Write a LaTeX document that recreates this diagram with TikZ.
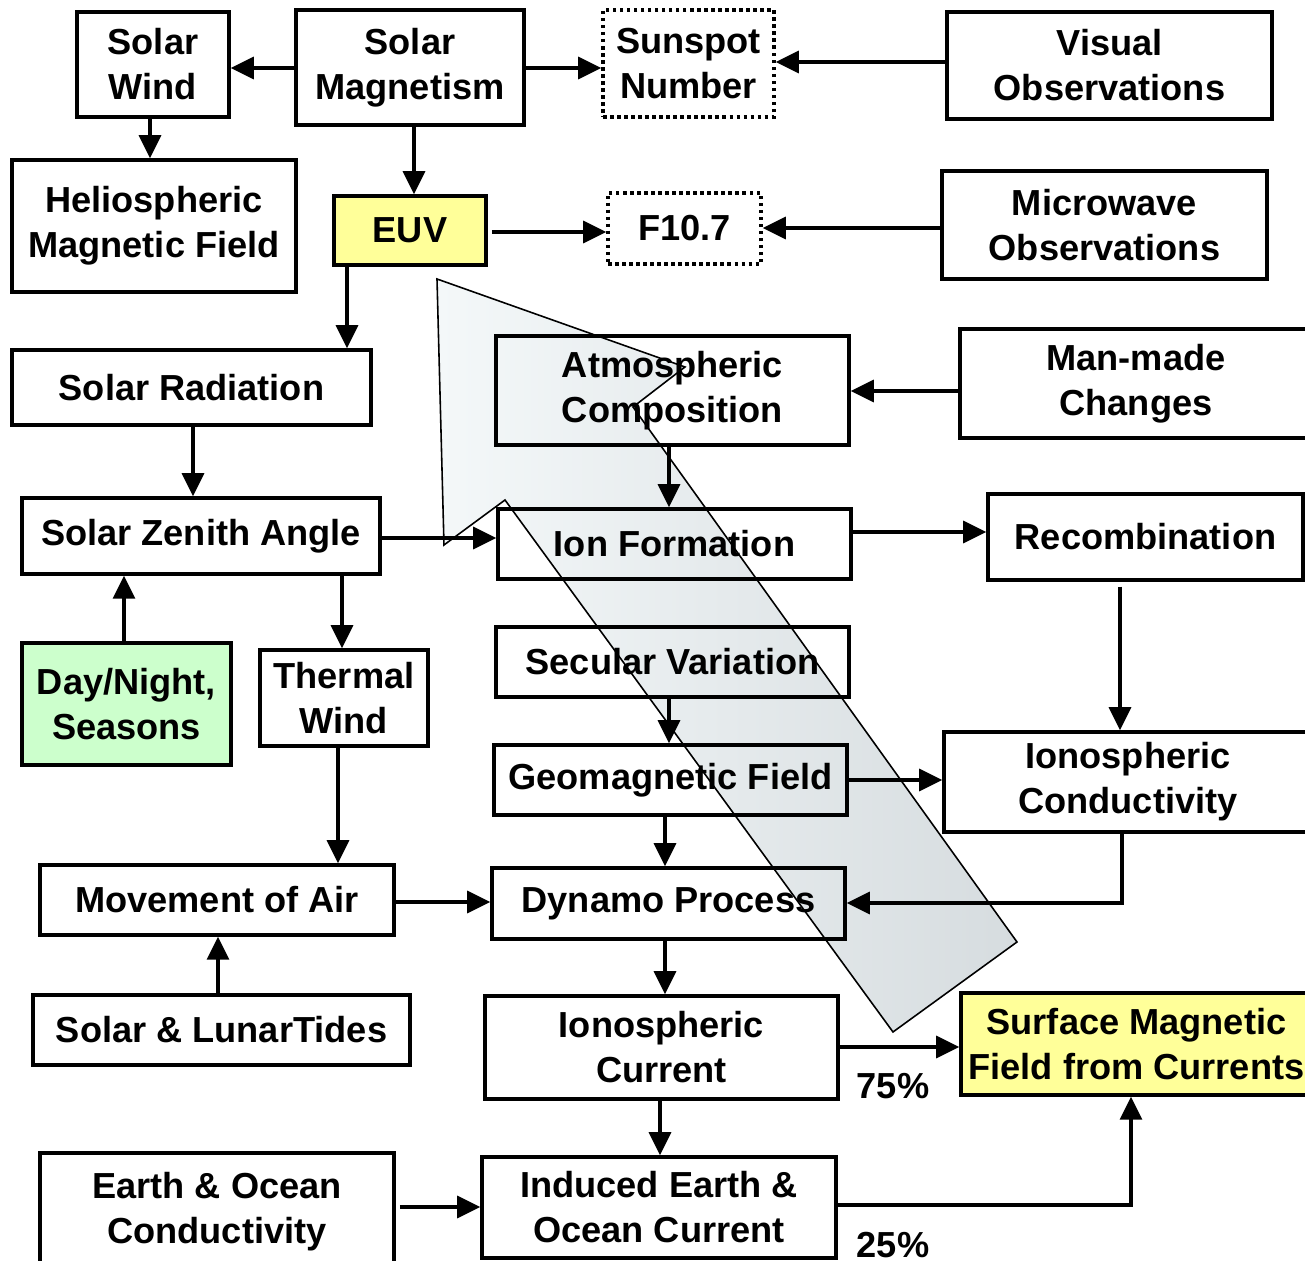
\documentclass[tikz,border=0pt]{standalone}
\usepackage{fontspec}
\setmainfont{Liberation Sans}
\usepackage{xcolor}
\usepackage{tikz}
\usetikzlibrary{arrows.meta}
\definecolor{boxyellow}{HTML}{FFFF99}
\definecolor{boxgreen}{HTML}{CCFFCC}
\definecolor{arrowlight}{HTML}{F4F8F9}
\definecolor{arrowdark}{HTML}{D6DCDF}
\newcommand{\boxfont}{\bfseries\fontsize{10.3}{12.8}\selectfont}

\begin{document}
\begin{tikzpicture}[x=0.1mm,y=-0.1mm,
  box/.style={draw,line width=1pt,inner sep=0pt,align=center,font=\boxfont},
  dotbox/.style={box,densely dotted},
  arr/.style={-{Triangle[length=2.3mm,width=2.2mm]},line width=0.9pt},
  bigarrow/.style={left color=arrowlight,right color=arrowdark}]
  \useasboundingbox (0,0) rectangle (1305,1261);
  % big arrow, fill first
  \shade[bigarrow] (437,279) -- (685,367) -- (633,407) -- (1017,942) -- (893,1032) -- (505,500) -- (444,545) -- cycle;
  % top rows
  \node[box,minimum width=15.2mm,minimum height=10.5mm] (swind) at (153,64.5) {Solar\\Wind};
  \node[box,minimum width=22.8mm,minimum height=11.5mm] (smag) at (410,67.5) {Solar\\Magnetism};
  \node[dotbox,minimum width=17.1mm,minimum height=10.7mm] (sunspot) at (688.5,63.5) {Sunspot\\Number};
  \node[box,minimum width=32.5mm,minimum height=10.7mm] (visual) at (1109.5,65.5) {Visual\\Observations};
  \node[box,minimum width=28.4mm,minimum height=13.2mm] (helio) at (154,226) {Heliospheric\\Magnetic Field};
  \node[box,fill=boxyellow,minimum width=15.2mm,minimum height=6.9mm] (euv) at (410,230.5) {EUV};
  \node[dotbox,minimum width=15.3mm,minimum height=7.1mm] (f107) at (684.5,228.5) {F10.7};
  \node[box,minimum width=32.5mm,minimum height=10.8mm] (micro) at (1104.5,225) {Microwave\\Observations};
  % middle
  \node[box,minimum width=35.9mm,minimum height=7.5mm] (srad) at (191.5,387.5) {Solar Radiation};
  \node[box,minimum width=35.3mm,minimum height=10.9mm] (atmos) at (672.5,390.5) {Atmospheric\\Composition};
  \node[box,minimum width=35.2mm,minimum height=10.9mm] (manmade) at (1136,383.5) {Man-made\\Changes};
  \node[box,minimum width=35.8mm,minimum height=7.6mm] (sza) at (201,536) {Solar Zenith Angle};
  \node[box,minimum width=35.3mm,minimum height=7mm] (ionf) at (674.5,544) {Ion Formation};
  \node[box,minimum width=31.5mm,minimum height=8.6mm] (recomb) at (1145.5,537) {Recombination};
  \node[box,fill=boxgreen,minimum width=20.9mm,minimum height=12.2mm] (daynight) at (126.5,704) {Day/Night,\\Seasons};
  \node[box,minimum width=16.8mm,minimum height=9.6mm] (thermal) at (344,698) {Thermal\\Wind};
  \node[box,minimum width=35.3mm,minimum height=7mm] (secular) at (672.5,662) {Secular Variation};
  \node[box,minimum width=35.3mm,minimum height=7mm] (geomag) at (670.5,780) {Geomagnetic Field};
  \node[box,minimum width=36.8mm,minimum height=10mm] (ioncond) at (1128,782) {Ionospheric\\Conductivity};
  % bottom
  \node[box,minimum width=35.4mm,minimum height=7mm] (air) at (217,900) {Movement of Air};
  \node[box,minimum width=35.3mm,minimum height=7.1mm] (dynamo) at (668.5,903.5) {Dynamo Process};
  \node[box,minimum width=37.7mm,minimum height=7mm] (tides) at (221.5,1030) {Solar \& LunarTides};
  \node[box,minimum width=35.3mm,minimum height=10.3mm] (ioncur) at (661.5,1047.5) {Ionospheric\\Current};
  \node[box,fill=boxyellow,minimum width=35.1mm,minimum height=10.2mm] (surface) at (1136.5,1044) {Surface Magnetic\\Field from Currents};
  \node[box,minimum width=35.4mm,minimum height=11.7mm] (earth) at (217,1211.5) {Earth \& Ocean\\Conductivity};
  \node[box,minimum width=35.4mm,minimum height=10.1mm] (induced) at (659,1207.5) {Induced Earth \&\\Ocean Current};
  \node[font=\boxfont] (p75) at (893,1086) {75\%};
  \node[font=\boxfont] (p25) at (893,1245) {25\%};
  % connectors
  \draw[arr] (smag.west |- 0,68) -- (swind.east |- 0,68);
  \draw[arr] (smag.east |- 0,68) -- (sunspot.west |- 0,68);
  \draw[arr] (visual.west |- 0,62) -- (sunspot.east |- 0,62);
  \draw[arr] (swind.south -| 150,0) -- (helio.north -| 150,0);
  \draw[arr] (smag.south -| 414,0) -- (euv.north -| 414,0);
  \draw[arr] (euv.east |- 0,232) ++(4,0) -- (f107.west |- 0,232);
  \draw[arr] (micro.west |- 0,228) -- (f107.east |- 0,228);
  \draw[arr] (euv.south -| 347,0) -- (srad.north -| 347,0);
  \draw[arr] (srad.south -| 193,0) -- (sza.north -| 193,0);
  \draw[arr] (sza.east |- 0,538) -- (ionf.west |- 0,538);
  \draw[arr] (manmade.west |- 0,391) -- (atmos.east |- 0,391);
  \draw[arr] (atmos.south -| 669,0) -- (ionf.north -| 669,0);
  \draw[arr] (ionf.east |- 0,532) -- (recomb.west |- 0,532);
  \draw[arr] (recomb.south -| 1120,0) ++(0,5) -- (ioncond.north -| 1120,0);
  \draw[arr] (sza.south -| 342,0) -- (thermal.north -| 342,0);
  \draw[arr] (daynight.north -| 124,0) -- (sza.south -| 124,0);
  \draw[arr] (thermal.south -| 338,0) -- (air.north -| 338,0);
  \draw[arr] (secular.south -| 669,0) -- (geomag.north -| 669,0);
  \draw[arr] (geomag.east |- 0,780) -- (ioncond.west |- 0,780);
  \draw[arr] (geomag.south -| 665,0) -- (dynamo.north -| 665,0);
  \draw[arr] (ioncond.south -| 1122,0) |- (dynamo.east |- 0,903);
  \draw[arr] (air.east |- 0,902) -- (dynamo.west |- 0,902);
  \draw[arr] (tides.north -| 218,0) -- (air.south -| 218,0);
  \draw[arr] (dynamo.south -| 665,0) -- (ioncur.north -| 665,0);
  \draw[arr] (ioncur.east |- 0,1047) -- (surface.west |- 0,1047);
  \draw[arr] (ioncur.south -| 660,0) -- (induced.north -| 660,0);
  \draw[arr] (earth.east |- 0,1207) ++(4,0) -- (induced.west |- 0,1207);
  \draw[arr] (induced.east |- 0,1205) -| (surface.south -| 1131,0);
  % big arrow outline on top
  \draw[line width=0.45pt] (437,279) -- (685,367) -- (633,407) -- (1017,942) -- (893,1032) -- (505,500) -- (444,545) -- cycle;
\end{tikzpicture}
\end{document}
